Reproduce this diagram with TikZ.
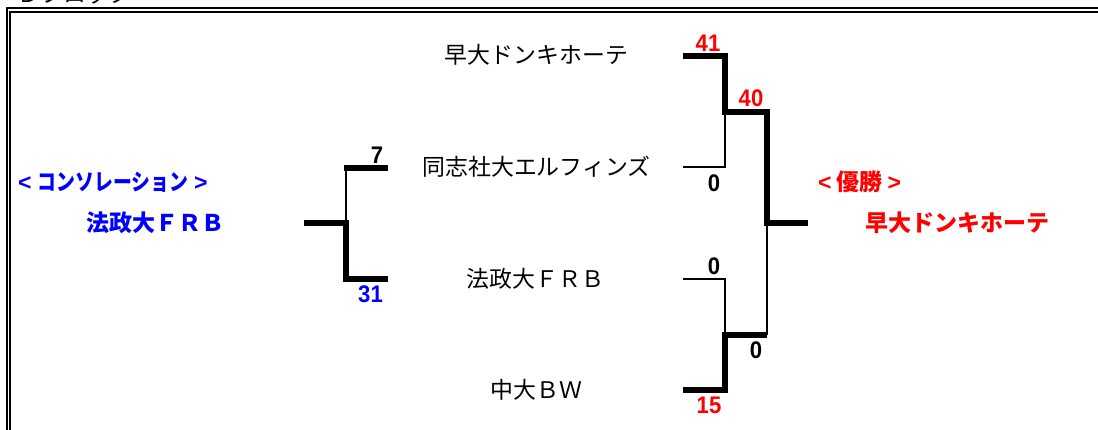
\documentclass[tikz,border=0pt]{standalone}
\usepackage{graphicx}
\usepackage{fontspec}
\setmainfont{Noto Sans CJK JP}
\newfontfamily\numfont[FakeStretch=0.92]{Liberation Sans}
\newfontfamily\bracketfont{Liberation Sans}
\definecolor{winred}{RGB}{255,0,0}
\definecolor{winblue}{RGB}{0,0,255}
\tikzset{
  thick line/.style={line width=5.7pt,line cap=butt,line join=miter},
  thin line/.style={line width=1.6pt,line cap=butt,line join=miter},
  frame line/.style={line width=2pt},
  team/.style={inner sep=0pt,font=\fontsize{22.9}{23}\selectfont,text=black},
  score/.style={inner sep=0pt,font=\numfont\bfseries\fontsize{24}{24}\selectfont},
  winlabel/.style={inner sep=0pt,font=\bfseries\fontsize{23}{23}\selectfont},
}
\newcommand{\lt}{{\bracketfont\bfseries <}}
\newcommand{\gt}{{\bracketfont\bfseries >}}
\begin{document}
\begin{tikzpicture}[x=1pt,y=-1pt]
\useasboundingbox (0,0) rectangle (1098,430);
\clip (0,0) rectangle (1098,430);
\fill[white] (0,0) rectangle (1098,430);
% frame
\coordinate (f1) at (6.5,430); \coordinate (f2) at (6.5,8.3); \coordinate (f3) at (1098,8.3);
\coordinate (g1) at (10.4,430); \coordinate (g2) at (10.4,12.3); \coordinate (g3) at (1098,12.3);
\draw[frame line] (f1) -- (f2) -- (f3);
\draw[frame line] (g1) -- (g2) -- (g3);
\node[team,anchor=west] (title) at (17,-6) {Ｄブロック};
% teams
\node[team] (t1) at (536.5,55) {早大ドンキホーテ};
\node[team] (t2) at (536.5,167) {同志社大エルフィンズ};
\node[team] (t3) at (535.5,279) {法政大ＦＲＢ};
\node[team] (t4) at (536.5,390) {中大ＢＷ};
% result labels
\node[winlabel,text=winblue,anchor=west] (cl) at (18,182) {\lt\hspace{6pt}\scalebox{0.82}[1]{コンソレーション}\hspace{6pt}\gt};
\node[winlabel,text=winblue] (cw) at (155,223) {法政大ＦＲＢ};
\node[winlabel,text=winred,anchor=west] (vl) at (818,182) {\lt\hspace{5pt}優勝\hspace{5pt}\gt};
\node[winlabel,text=winred] (vw) at (957,223) {早大ドンキホーテ};
% scores
\node[score] (s7) at (377,155) {7};
\node[score,text=winblue] (s31) at (370.5,294) {31};
\node[score,text=winred] (s41) at (708,43) {41};
\node[score,text=winred] (s40) at (751,98) {40};
\node[score] (s0a) at (714,183) {0};
\node[score] (s0b) at (714,266) {0};
\node[score] (s0c) at (756,350) {0};
\node[score,text=winred] (s15) at (709,405) {15};
% bracket points
\coordinate (a1) at (683,56); \coordinate (a2) at (725,56);
\coordinate (b1) at (683,167); \coordinate (b2) at (725,167);
\coordinate (ab) at (725,112); \coordinate (abr) at (767,112);
\coordinate (c1) at (683,279); \coordinate (c2) at (725,279);
\coordinate (d1) at (683,390); \coordinate (d2) at (725,390);
\coordinate (cd) at (725,335); \coordinate (cdr) at (767,335);
\coordinate (m) at (767,223); \coordinate (mr) at (808,223);
\coordinate (l1) at (388,168); \coordinate (l2) at (346,168); \coordinate (l2e) at (344,168);
\coordinate (l3) at (388,279); \coordinate (l4) at (346,279);
\coordinate (lm) at (346,223); \coordinate (ll) at (304,223);
% thin
\draw[thin line] (b1) -- (b2) -- (ab);
\draw[thin line] (c1) -- (c2) -- (cd);
\draw[thin line] (cdr) -- (m);
\draw[thin line] (l2) -- (lm);
% thick
\draw[thick line] (a1) -- (a2) -- (ab) -- (abr) -- (m) -- (mr);
\draw[thick line] (d1) -- (d2) -- (cd) -- (cdr);
\draw[thick line] (l1) -- (l2e);
\draw[thick line] (ll) -- (lm) -- (l4) -- (l3);
\end{tikzpicture}
\end{document}
